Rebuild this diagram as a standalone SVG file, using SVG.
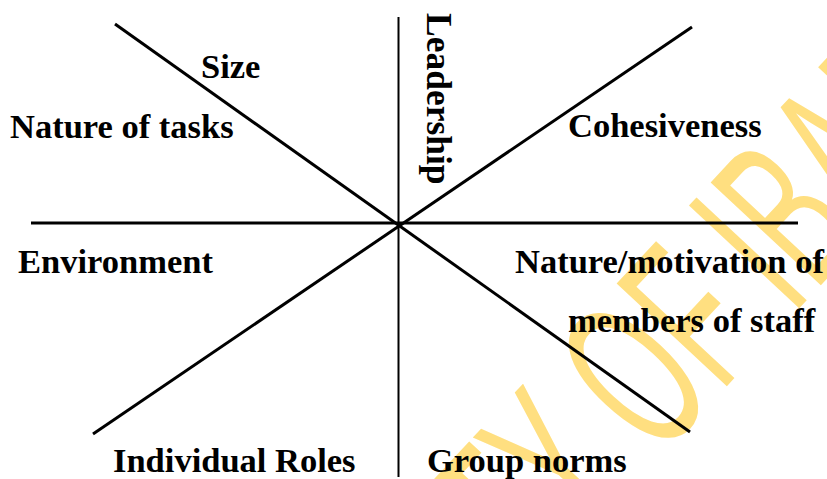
<svg xmlns="http://www.w3.org/2000/svg" width="827" height="479" viewBox="0 0 827 479">
  <style>
    .lbl { font-family: "Liberation Serif", "Times New Roman", serif; font-weight: bold; font-size: 34.5px; fill: #000; }
    .ln { stroke: #000; stroke-width: 3; fill: none; }
    .wm { font-family: "Liberation Sans", Arial, sans-serif; font-size: 219px; fill: #FFDF80; }
  </style>
  <rect width="827" height="479" fill="#fff"/>
  <g id="watermark" transform="translate(688.7,426.9) rotate(-47) scale(0.54,1)">
    <text class="wm" x="-146" y="0" text-anchor="end">UNIVERSITY</text>
    <text class="wm" x="-85" y="0">OF IBADAN</text>
  </g>
  <g id="connectors">
    <line class="ln" x1="31" y1="223" x2="798" y2="223"/>
    <line class="ln" x1="398.5" y1="17" x2="398.5" y2="477" style="stroke-width:2"/>
    <line class="ln" x1="115" y1="24" x2="690" y2="432"/>
    <line class="ln" x1="692" y1="27" x2="93" y2="434"/>
  </g>
  <g id="node-size"><text class="lbl" x="201" y="78">Size</text></g>
  <g id="node-nature-tasks"><text class="lbl" x="10" y="138">Nature of tasks</text></g>
  <g id="node-leadership"><text class="lbl" transform="translate(427,13) rotate(90)" x="0" y="0" style="font-size:35.5px">Leadership</text></g>
  <g id="node-cohesiveness"><text class="lbl" x="568" y="137">Cohesiveness</text></g>
  <g id="node-environment"><text class="lbl" x="18" y="273">Environment</text></g>
  <g id="node-motivation">
    <text class="lbl" x="515" y="273">Nature/motivation of</text>
    <text class="lbl" x="568" y="332">members of staff</text>
  </g>
  <g id="node-roles"><text class="lbl" x="113" y="472">Individual Roles</text></g>
  <g id="node-norms"><text class="lbl" x="427" y="472">Group norms</text></g>
</svg>
